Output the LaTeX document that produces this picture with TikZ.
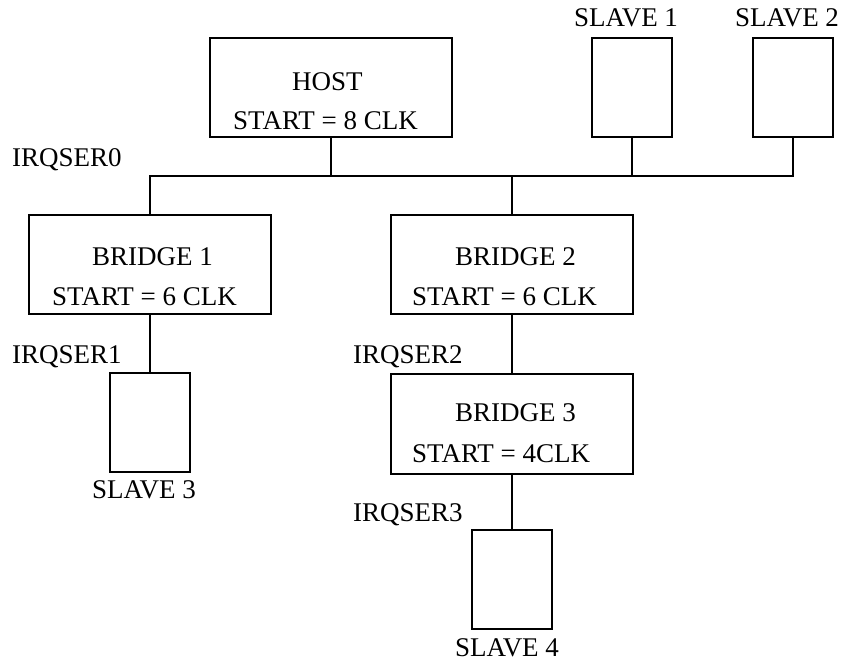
\documentclass[tikz,border=0pt]{standalone}
\usepackage{fontspec}
\setmainfont{Liberation Serif}
\begin{document}
\begin{tikzpicture}[x=1pt,y=-1pt,
  box/.style={draw,line width=2pt,rectangle,inner sep=0pt},
  lbl/.style={inner sep=0pt,anchor=base west,font=\fontsize{27}{31}\selectfont},
  wire/.style={line width=2pt}]
\useasboundingbox (0,0) rectangle (842,665);
% boxes
\node[box,minimum width=242pt,minimum height=99pt] (host) at (331,87.5) {};
\node[box,minimum width=80pt,minimum height=99pt] (s1) at (632,87.5) {};
\node[box,minimum width=80pt,minimum height=99pt] (s2) at (793,87.5) {};
\node[box,minimum width=242pt,minimum height=99pt] (br1) at (150,264.5) {};
\node[box,minimum width=242pt,minimum height=99pt] (br2) at (512,264.5) {};
\node[box,minimum width=80pt,minimum height=99pt] (s3) at (150,422.5) {};
\node[box,minimum width=242pt,minimum height=100pt] (br3) at (512,424) {};
\node[box,minimum width=80pt,minimum height=99pt] (s4) at (512,579.5) {};
% texts
\node[lbl] (thost) at (292,90) {HOST};
\node[lbl] (thostc) at (233,129) {START = 8 CLK};
\node[lbl] (irq0) at (12,166) {IRQSER0};
\node[lbl] (ts1) at (574,26) {SLAVE 1};
\node[lbl] (ts2) at (735,26) {SLAVE 2};
\node[lbl] (tbr1) at (92,265) {BRIDGE 1};
\node[lbl] (tbr1c) at (52,305) {START = 6 CLK};
\node[lbl] (irq1) at (12,363) {IRQSER1};
\node[lbl] (ts3) at (92,498) {SLAVE 3};
\node[lbl] (tbr2) at (455,265) {BRIDGE 2};
\node[lbl] (tbr2c) at (412,305) {START = 6 CLK};
\node[lbl] (irq2) at (353,363) {IRQSER2};
\node[lbl] (tbr3) at (455,421) {BRIDGE 3};
\node[lbl] (tbr3c) at (412,462) {START = 4CLK};
\node[lbl] (irq3) at (353,521) {IRQSER3};
\node[lbl] (ts4) at (455,656) {SLAVE 4};
% bus
\coordinate (bus) at (150,176);
\draw[wire] (br1.north) -- (br1.north |- bus) -| (s2.south);
\draw[wire] (host.south) -- (host.south |- bus);
\draw[wire] (s1.south) -- (s1.south |- bus);
\draw[wire] (br2.north) -- (br2.north |- bus);
\draw[wire] (br1.south) -- (s3.north);
\draw[wire] (br2.south) -- (br3.north);
\draw[wire] (br3.south) -- (s4.north);
\end{tikzpicture}
\end{document}
